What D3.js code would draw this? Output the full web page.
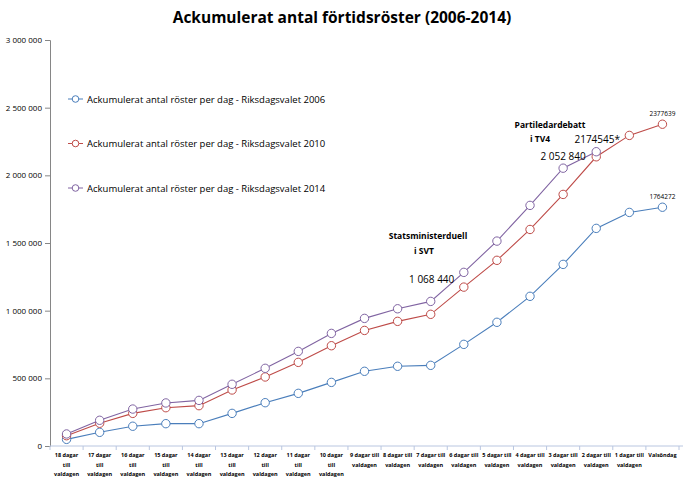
<!DOCTYPE html>
<html>
<head>
<meta charset="utf-8">
<script src="https://cdn.jsdelivr.net/npm/d3@7"></script>
<style>
  body { margin: 0; background: #fff; }
  svg { font-family: "Open Sans", "Liberation Sans", sans-serif; }
</style>
</head>
<body>
<svg id="chart" width="683" height="480"></svg>
<script>
// kategorier (dagar kvar till valdagen)
const categories = [
  "18", "17", "16", "15", "14", "13", "12", "11", "10",
  "9", "8", "7", "6", "5", "4", "3", "2", "1", "Valsöndag"
];
// tick-etiketter, rad för rad
const tickLabels = [
  ["18 dagar", "till", "valdagen"], ["17 dagar", "till", "valdagen"],
  ["16 dagar", "till", "valdagen"], ["15 dagar", "till", "valdagen"],
  ["14 dagar", "till", "valdagen"], ["13 dagar", "till", "valdagen"],
  ["12 dagar", "till", "valdagen"], ["11 dagar", "till", "valdagen"],
  ["10 dagar", "till", "valdagen"],
  ["9 dagar till", "valdagen"], ["8 dagar till", "valdagen"],
  ["7 dagar till", "valdagen"], ["6 dagar till", "valdagen"],
  ["5 dagar till", "valdagen"], ["4 dagar till", "valdagen"],
  ["3 dagar till", "valdagen"], ["2 dagar till", "valdagen"],
  ["1 dagar till", "valdagen"], ["Valsöndag"]
];

// ackumulerade röster
const votes2006 = [
  49000, 101000, 146000, 165000, 165000, 241000, 320000, 389000, 470000,
  552000, 589000, 596000, 751000, 914000, 1106000, 1342000, 1608000, 1726000, 1764272
];
const votes2010 = [
  76000, 168000, 241000, 283000, 298000, 414000, 510000, 618000, 741000,
  854000, 921000, 973000, 1174000, 1372000, 1600000, 1859000, 2137000, 2295000, 2377639
];
const votes2014 = [
  89000, 190000, 273000, 318000, 337000, 456000, 574000, 699000, 832000,
  943000, 1014000, 1068440, 1283000, 1514000, 1778000, 2052840, 2174545, null, null
];

const yTicks = [0, 500000, 1000000, 1500000, 2000000, 2500000, 3000000];

const series = [
  { name: "Ackumulerat antal röster per dag - Riksdagsvalet 2006", values: votes2006, color: "#4a7ebb" },
  { name: "Ackumulerat antal röster per dag - Riksdagsvalet 2010", values: votes2010, color: "#be4b48" },
  { name: "Ackumulerat antal röster per dag - Riksdagsvalet 2014", values: votes2014, color: "#8064a2" }
];

const svg = d3.select("#chart");

const x = d3.scaleBand().domain(categories).range([50, 679]);
const y = d3.scaleLinear().domain([0, 3000000]).range([446, 40]);
const cx = (d) => x(d) + x.bandwidth() / 2;
const fmt = (v) => d3.format(",")(v).replace(/,/g, " ");

// titel
svg.append("text")
  .attr("x", 342)
  .attr("y", 23)
  .attr("text-anchor", "middle")
  .style("font-size", "15.5px")
  .style("font-weight", "bold")
  .text("Ackumulerat antal förtidsröster (2006-2014)");

// y-axel
const yAxis = svg.append("g")
  .attr("transform", "translate(50,0)")
  .call(d3.axisLeft(y).tickValues(yTicks).tickSize(5).tickFormat(fmt));
yAxis.select(".domain").attr("stroke", "#868686");
yAxis.selectAll(".tick line").attr("stroke", "#868686");
yAxis.selectAll(".tick text")
  .attr("x", -8)
  .style("font-size", "8px")
  .style("font-family", "Open Sans, sans-serif")
  .attr("fill", "#000");

// x-axel
const xAxis = svg.append("g").attr("transform", "translate(0,446)");
xAxis.append("line")
  .attr("x1", 50).attr("x2", 683)
  .attr("stroke", "#b9c6e0");
xAxis.selectAll(".xtick")
  .data(categories.concat(["end"]))
  .join("line")
  .attr("class", "xtick")
  .attr("x1", (d, i) => i < categories.length ? x(d) : x.range()[1])
  .attr("x2", (d, i) => i < categories.length ? x(d) : x.range()[1])
  .attr("y1", 0).attr("y2", 4)
  .attr("stroke", "#b9c6e0");

const labels = xAxis.selectAll(".xlabel")
  .data(categories)
  .join("text")
  .attr("class", "xlabel")
  .attr("text-anchor", "middle")
  .style("font-size", "5.5px")
  .style("font-weight", "bold");
labels.each(function (d, i) {
  d3.select(this).selectAll("tspan")
    .data(tickLabels[i])
    .join("tspan")
    .attr("x", cx(d))
    .attr("y", (t, j) => 11 + j * 9.5)
    .text((t) => t);
});

// linjer och markörer
const line = d3.line()
  .defined((d) => d.v != null)
  .x((d) => cx(d.c))
  .y((d) => y(d.v));

series.forEach((s) => {
  const pts = categories.map((c, i) => ({ c: c, v: s.values[i] }));
  svg.append("path")
    .datum(pts)
    .attr("d", line)
    .attr("fill", "none")
    .attr("stroke", s.color)
    .attr("stroke-width", 1.1);
  svg.append("g")
    .selectAll("circle")
    .data(pts.filter((d) => d.v != null))
    .join("circle")
    .attr("cx", (d) => cx(d.c))
    .attr("cy", (d) => y(d.v))
    .attr("r", 4.2)
    .attr("fill", "#fff")
    .attr("stroke", s.color)
    .attr("stroke-width", 1);
});

// förklaring
const legend = svg.append("g");
series.forEach((s, i) => {
  const ly = 99 + i * 44.5;
  legend.append("line")
    .attr("x1", 68).attr("x2", 83)
    .attr("y1", ly).attr("y2", ly)
    .attr("stroke", s.color);
  legend.append("circle")
    .attr("cx", 75.5).attr("cy", ly).attr("r", 3.3)
    .attr("fill", "#fff").attr("stroke", s.color);
  legend.append("text")
    .attr("x", 87).attr("y", ly + 3.5)
    .style("font-size", "9.5px")
    .text(s.name);
});

// annoteringar
const notes = svg.append("g").style("font-size", "8.5px");
notes.append("text").attr("x", 428).attr("y", 239).attr("text-anchor", "middle")
  .style("font-weight", "bold").text("Statsministerduell");
notes.append("text").attr("x", 424).attr("y", 254).attr("text-anchor", "middle")
  .style("font-weight", "bold").text("i SVT");
notes.append("text").attr("x", 550).attr("y", 128).attr("text-anchor", "middle")
  .style("font-weight", "bold").text("Partiledardebatt");
notes.append("text").attr("x", 540).attr("y", 142).attr("text-anchor", "middle")
  .style("font-weight", "bold").text("i TV4");

const last = categories.length - 1;
notes.append("text").attr("x", cx(categories[11]) + 1).attr("y", y(votes2014[11]) - 18)
  .attr("text-anchor", "middle").style("font-size", "10px").text(fmt(votes2014[11]));
notes.append("text").attr("x", cx(categories[15])).attr("y", y(votes2014[15]) - 8)
  .attr("text-anchor", "middle").style("font-size", "10px").text(fmt(votes2014[15]));
notes.append("text").attr("x", cx(categories[16]) + 1).attr("y", y(votes2014[16]) - 9)
  .attr("text-anchor", "middle").style("font-size", "10px").text(votes2014[16] + "*");
notes.append("text").attr("x", cx(categories[last])).attr("y", y(votes2010[last]) - 8)
  .attr("text-anchor", "middle").style("font-size", "6.5px").text(votes2010[last]);
notes.append("text").attr("x", cx(categories[last])).attr("y", y(votes2006[last]) - 8)
  .attr("text-anchor", "middle").style("font-size", "6.5px").text(votes2006[last]);
</script>
</body>
</html>
